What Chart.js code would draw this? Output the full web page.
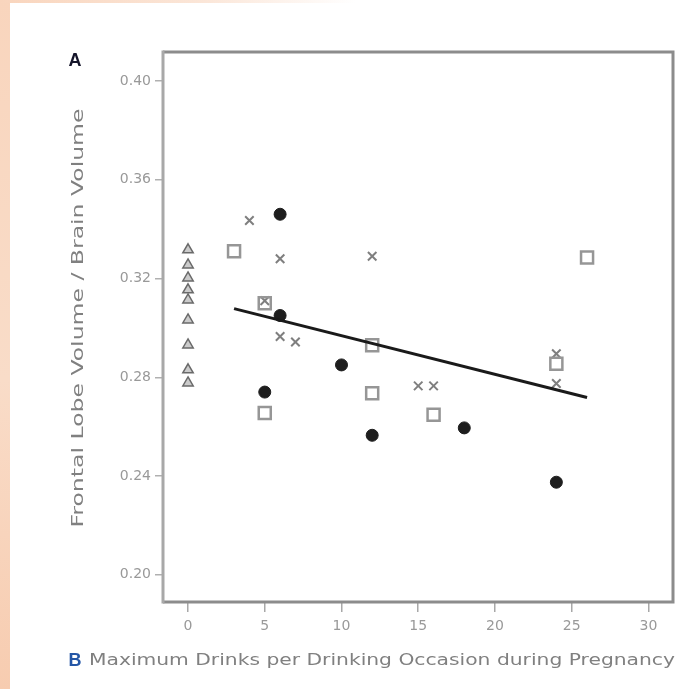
<!DOCTYPE html>
<html>
<head>
<meta charset="utf-8">
<title>Frontal lobe volume</title>
<script src="https://cdn.jsdelivr.net/npm/chart.js@4.4.1/dist/chart.umd.min.js"></script>
<style>
  body { margin: 0; background: #fff; }
  #wrap { position: relative; width: 684px; height: 689px; background: #fff; overflow: hidden; }
  #edgeLeft { position: absolute; left: 0; top: 0; width: 10px; height: 689px; background: linear-gradient(#f9d5bd, #f9dcc8 55%, #f7ccb0); }
  #edgeTop { position: absolute; left: 0; top: 0; width: 684px; height: 3px; background: linear-gradient(90deg, #f9d5bd, #fbe6d8 30%, #ffffff 52%); }
  canvas { position: absolute; left: 0; top: 0; }
</style>
</head>
<body>
<div id="wrap">
  <div id="edgeLeft"></div>
  <div id="edgeTop"></div>
  <canvas id="plot" width="684" height="689"></canvas>
</div>
<script>
// axis ticks
const xTicks = [0, 5, 10, 15, 20, 25, 30];
const yTicks = [0.20, 0.24, 0.28, 0.32, 0.36, 0.40];

// filled circles
const circleX = [6, 6, 10, 5, 18, 12, 24];
const circleY = [0.346, 0.305, 0.285, 0.274, 0.2595, 0.2565, 0.2375];

// open squares
const squareX = [3, 5, 12, 26, 24, 12, 5, 16];
const squareY = [0.331, 0.310, 0.293, 0.3285, 0.2855, 0.2735, 0.2655, 0.2648];

// crosses
const crossX = [4, 6, 12, 6, 7, 15, 16, 24, 24, 5];
const crossY = [0.3435, 0.328, 0.329, 0.2965, 0.2943, 0.2765, 0.2765, 0.2895, 0.2775, 0.311];

// triangles, all at zero drinks
const triX = [0, 0, 0, 0, 0, 0, 0, 0, 0];
const triY = [0.3316, 0.3255, 0.3202, 0.3154, 0.3113, 0.3032, 0.2931, 0.283, 0.2777];

// fitted line end points
const fitX = [3, 26];
const fitY = [0.3078, 0.2718];

const yTitle = "Frontal Lobe Volume / Brain Volume";
const xTitle = "Maximum Drinks per Drinking Occasion during Pregnancy";

function pairs(xs, ys) {
  return xs.map((x, i) => ({ x: x, y: ys[i] }));
}

// text squeezed/stretched to a given run length
function fitText(ctx, text, cx, cy, len, font, color, angle) {
  ctx.save();
  ctx.translate(cx, cy);
  ctx.rotate(angle);
  ctx.font = font;
  const w = ctx.measureText(text).width;
  ctx.scale(len / w, 1);
  ctx.textAlign = "center";
  ctx.textBaseline = "middle";
  ctx.fillStyle = color;
  ctx.fillText(text, 0, 0);
  ctx.restore();
}

const frame = {
  id: "frame",
  beforeDatasetsDraw(chart) {
    const { ctx, chartArea: a } = chart;
    ctx.save();
    ctx.lineWidth = 3;
    ctx.strokeStyle = "#8c8c8c";
    ctx.beginPath();
    ctx.moveTo(a.left, a.top);
    ctx.lineTo(a.right, a.top);
    ctx.lineTo(a.right, a.bottom);
    ctx.lineTo(a.left, a.bottom);
    ctx.stroke();
    ctx.strokeStyle = "#a8a8a8";
    ctx.beginPath();
    ctx.moveTo(a.left, a.top - 1.5);
    ctx.lineTo(a.left, a.bottom + 1.5);
    ctx.stroke();
    ctx.restore();
  },
  afterDraw(chart) {
    const ctx = chart.ctx;
    fitText(ctx, yTitle, 79, 318, 419, "16px 'DejaVu Sans'", "#808080", -Math.PI / 2);
    fitText(ctx, xTitle, 382, 661, 586, "16px 'DejaVu Sans'", "#808080", 0);
    ctx.save();
    ctx.font = "bold 18px 'Liberation Sans'";
    ctx.textAlign = "center";
    ctx.textBaseline = "middle";
    ctx.fillStyle = "#15152a";
    ctx.fillText("A", 75, 61);
    ctx.fillStyle = "#2456a6";
    ctx.fillText("B", 75, 661);
    ctx.restore();
  }
};

const chart = new Chart(document.getElementById("plot"), {
  type: "scatter",
  data: {
    datasets: [
      {
        type: "line",
        data: pairs(fitX, fitY),
        borderColor: "#1a1a1a",
        borderWidth: 3,
        pointRadius: 0,
        fill: false
      },
      {
        data: pairs(circleX, circleY),
        pointStyle: "circle",
        pointRadius: 6,
        backgroundColor: "#1e1e1e",
        borderColor: "#1e1e1e",
        borderWidth: 1
      },
      {
        data: pairs(squareX, squareY),
        pointStyle: "rect",
        pointRadius: 8.5,
        backgroundColor: "rgba(0,0,0,0)",
        borderColor: "#969696",
        borderWidth: 2.5
      },
      {
        data: pairs(crossX, crossY),
        pointStyle: "crossRot",
        pointRadius: 6,
        borderColor: "#7f7f7f",
        borderWidth: 2
      },
      {
        data: pairs(triX, triY),
        pointStyle: "triangle",
        pointRadius: 6,
        backgroundColor: "rgba(140,140,140,0.45)",
        borderColor: "#6a6a6a",
        borderWidth: 1.5
      }
    ]
  },
  options: {
    responsive: false,
    animation: false,
    layout: { padding: { top: 52, right: 10, left: 0, bottom: 0 } },
    plugins: {
      legend: { display: false },
      tooltip: { enabled: false }
    },
    scales: {
      x: {
        type: "linear",
        min: -1.63,
        max: 31.6,
        afterBuildTicks: (s) => { s.ticks = xTicks.map((v) => ({ value: v })); },
        afterFit: (s) => { s.height = 87; },
        border: { display: false },
        grid: { drawOnChartArea: false, tickLength: 10, color: "#a8a8a8", lineWidth: 1.5 },
        ticks: { padding: 6, color: "#999", font: { family: "DejaVu Sans", size: 14 } }
      },
      y: {
        type: "linear",
        min: 0.189,
        max: 0.4117,
        afterBuildTicks: (s) => { s.ticks = yTicks.map((v) => ({ value: v })); },
        afterFit: (s) => { s.width = 163; },
        border: { display: false },
        grid: { drawOnChartArea: false, tickLength: 8, color: "#b0b0b0", lineWidth: 1.5 },
        ticks: {
          padding: 4,
          color: "#999",
          font: { family: "DejaVu Sans", size: 14 },
          callback: (v) => Number(v).toFixed(2)
        }
      }
    }
  },
  plugins: [frame]
});
</script>
</body>
</html>
